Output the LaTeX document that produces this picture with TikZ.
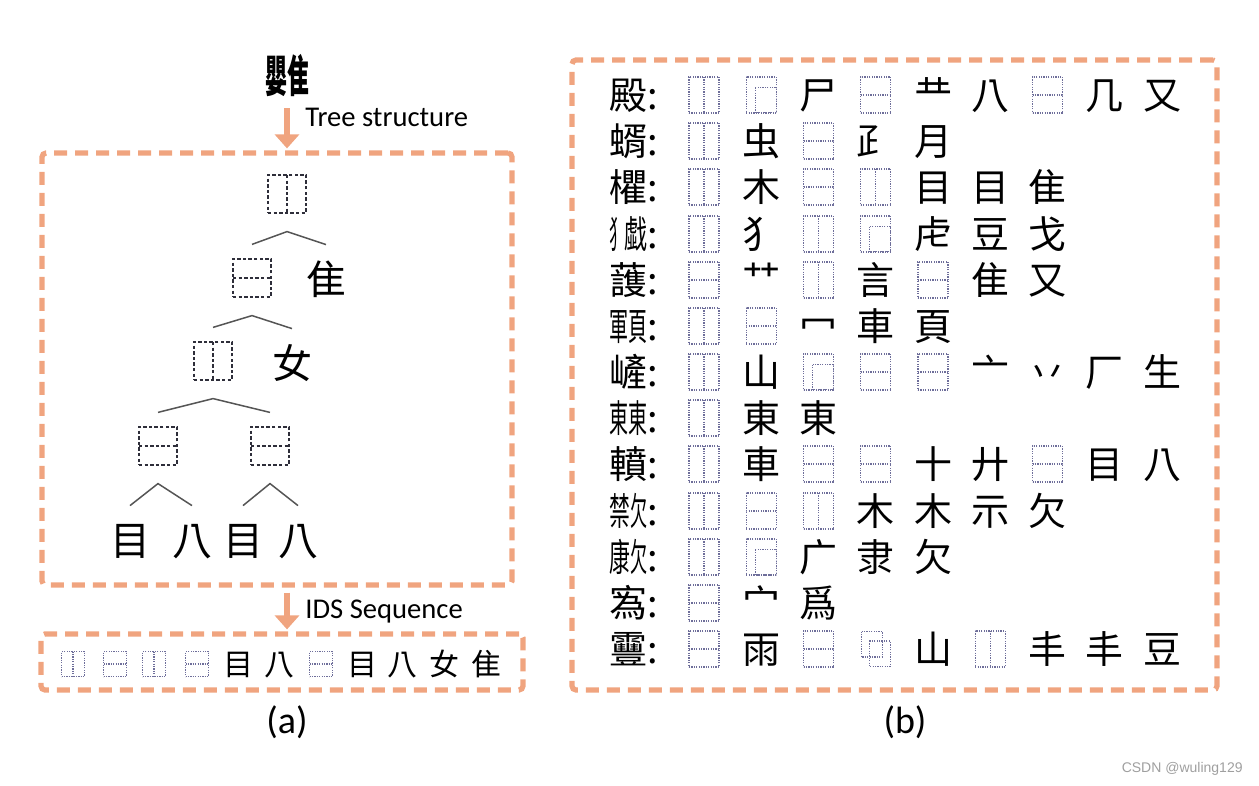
\documentclass[tikz,border=0pt]{standalone}
\usepackage{fontspec}
\usepackage{graphicx}
\setmainfont{Carlito}
\newfontfamily\cjk{Noto Sans CJK TC}
\newfontfamily\marksans{Liberation Sans}
\usetikzlibrary{arrows.meta,calc}
\definecolor{IdsOrange}{HTML}{F0A47F}
\definecolor{IdsDot}{HTML}{6E6E9A}
\definecolor{IdsInk}{HTML}{2E2E3A}
\definecolor{IdsCaret}{HTML}{555555}

% one glyph built from two squeezed components
\newcommand{\pairglyph}[3]{\makebox[1em][c]{\scalebox{#3}[1]{#1}\scalebox{\fpeval{1-#3}}[1]{#2}}}

\begin{document}
\begin{tikzpicture}[x=0.5pt,y=-0.5pt,
    panel/.style={draw=IdsOrange, line width=2.6pt, dash pattern=on 6.5pt off 4pt, rounded corners=2pt, inner sep=0pt},
    flow/.style={draw=IdsOrange, line width=2.6pt, -{Triangle[width=12pt,length=7pt]}},
    caret/.style={IdsCaret, line width=0.75pt},
    tag/.style={font=\fontsize{14.3}{14.3}\selectfont, inner sep=0pt},
    idcline/.style={IdsInk, line width=0.6pt, dash pattern=on 1.7pt off 1.1pt},
    idcbox/.style={draw, idcline, inner sep=0pt},
    idlr/.style={idcbox, path picture={\draw[idcline] (path picture bounding box.north) -- (path picture bounding box.south);}},
    idtb/.style={idcbox, path picture={\draw[idcline] (path picture bounding box.west) -- (path picture bounding box.east);}},
    idul/.style={idcbox, path picture={\draw[idcline] ($(path picture bounding box.north west)!0.3!(path picture bounding box.south east)$) rectangle (path picture bounding box.south east);}},
    idov/.style={idcbox, draw=none, path picture={
        \draw[idcline] ($(path picture bounding box.north west)+(0.3pt,-0.3pt)$) rectangle ($(path picture bounding box.north west)!0.72!(path picture bounding box.south east)$);
        \draw[idcline] ($(path picture bounding box.north west)!0.28!(path picture bounding box.south east)$) rectangle ($(path picture bounding box.south east)+(-0.3pt,0.3pt)$);}},
    glyph/.style={font=\cjk\fontsize{19}{19}\selectfont, inner sep=0pt, text height=16.7pt, text depth=2.3pt},
    rowlab/.style={glyph, anchor=west}]

    \useasboundingbox (0,0) rectangle (1259,786);

    % ========== panels ==========
    \node[panel, minimum width=235pt, minimum height=216pt] (treebox) at (277,369) {};
    \node[panel, minimum width=241pt, minimum height=28pt] (seqbox) at (282,662) {};
    \node[panel, minimum width=322.5pt, minimum height=315pt] (listbox) at (894.5,375) {};

    % ========== (a): character and its tree ==========
    \node[font=\cjk\bfseries\fontsize{22}{22}\selectfont, inner sep=0pt, text height=19.4pt, text depth=2.6pt]
        (word) at (287,76) {\pairglyph{嬰}{隹}{0.5}};

    \draw[flow, shorten <=5pt, shorten >=1pt] (word.south) -- (word.south |- treebox.north);
    \node[tag, anchor=west] (treetag) at (305,117) {Tree structure};

    \begin{scope}[idcbox/.append style={minimum width=19pt, minimum height=19pt},
                  glyph/.append style={font=\cjk\fontsize{20}{20}\selectfont, text height=17.6pt, text depth=2.4pt}]
        \node[idlr] (root) at (287,194) {};
        \node[idtb] (midl) at (252,278) {};
        \node[glyph] (midr) at (326,279) {隹};
        \node[idlr] (lowl) at (213,361) {};
        \node[glyph] (lowr) at (292,363) {女};
        \node[idtb] (pairl) at (158,446) {};
        \node[idtb] (pairr) at (270,446) {};
        \node[glyph] (leafa) at (130,540) {目};
        \node[glyph] (leafb) at (192,540) {八};
        \node[glyph] (leafc) at (243,540) {目};
        \node[glyph] (leafd) at (298,540) {八};

        % branches
        \draw[caret] ([yshift=7pt]midl.north) -- ([yshift=-9pt]root.south) -- ([yshift=7pt]midr.north);
        \draw[caret] ([yshift=7pt]lowl.north) -- ([yshift=-9pt]midl.south) -- ([yshift=7pt]lowr.north);
        \draw[caret] ([yshift=7pt]pairl.north) -- ([yshift=-9pt]lowl.south) -- ([yshift=7pt]pairr.north);
        \draw[caret] ([yshift=7pt]leafa.north) -- ([yshift=-9pt]pairl.south) -- ([yshift=7pt]leafb.north);
        \draw[caret] ([yshift=7pt]leafc.north) -- ([yshift=-9pt]pairr.south) -- ([yshift=7pt]leafd.north);
    \end{scope}

    \draw[flow, shorten <=2.5pt, shorten >=1pt] (word.south |- treebox.south) -- (word.south |- seqbox.north);
    \node[tag, anchor=west] (seqtag) at (305,612) {IDS Sequence};

    % IDS sequence
    \begin{scope}[idcline/.style={IdsDot, line width=0.55pt, dash pattern=on 0.6pt off 0.6pt},
                  idcbox/.append style={minimum width=11.5pt, minimum height=12.5pt},
                  glyph/.append style={font=\cjk\fontsize{15}{15}\selectfont, text height=13.2pt, text depth=1.8pt}]
        \foreach \st/\tx/\px [count=\k] in {idlr//73, idtb//115, idlr//154, idtb//197, glyph/目/238, glyph/八/279,
                                            idtb//321, glyph/目/362, glyph/八/402, glyph/女/444, glyph/隹/486}
            \node[\st] (seq\k) at (\px,664) {\tx};
    \end{scope}

    \node[font=\fontsize{19}{19}\selectfont] (capa) at (287,722) {(a)};

    % ========== (b): decomposition list ==========
    \begin{scope}[idcline/.style={IdsDot, line width=0.6pt, dash pattern=on 0.6pt off 0.6pt},
                  idcbox/.append style={minimum width=15pt, minimum height=18pt}]
        % row 1
        \node[rowlab] (r1) at (609,95) {殿:};
        \foreach \st/\tx [count=\c] in {idlr/,idul/,glyph/尸,idtb/,glyph/龷,glyph/八,idtb/,glyph/几,glyph/又}
            \node[\st] (r1c\c) at ({704+57.25*(\c-1)},95) {\tx};
        % row 2
        \node[rowlab] (r2) at (609,141) {蝑:};
        \foreach \st/\tx [count=\c] in {idlr/,glyph/虫,idtb/,glyph/⺪,glyph/月}
            \node[\st] (r2c\c) at ({704+57.25*(\c-1)},141) {\tx};
        % row 3
        \node[rowlab] (r3) at (609,187) {欋:};
        \foreach \st/\tx [count=\c] in {idlr/,glyph/木,idtb/,idlr/,glyph/目,glyph/目,glyph/隹}
            \node[\st] (r3c\c) at ({704+57.25*(\c-1)},187) {\tx};
        % row 4
        \node[rowlab] (r4) at (609,234) {\pairglyph{犭}{戱}{0.4}:};
        \foreach \st/\tx [count=\c] in {idlr/,glyph/犭,idlr/,idul/,glyph/虍,glyph/豆,glyph/戈}
            \node[\st] (r4c\c) at ({704+57.25*(\c-1)},234) {\tx};
        % row 5
        \node[rowlab] (r5) at (609,280) {䕶:};
        \foreach \st/\tx [count=\c] in {idtb/,glyph/艹,idlr/,glyph/言,idtb/,glyph/隹,glyph/又}
            \node[\st] (r5c\c) at ({704+57.25*(\c-1)},280) {\tx};
        % row 6
        \node[rowlab] (r6) at (609,326) {\pairglyph{軍}{頁}{0.5}:};
        \foreach \st/\tx [count=\c] in {idlr/,idtb/,glyph/冖,glyph/車,glyph/頁}
            \node[\st] (r6c\c) at ({704+57.25*(\c-1)},326) {\tx};
        % row 7
        \node[rowlab] (r7) at (609,372) {嵼:};
        \foreach \st/\tx [count=\c] in {idlr/,glyph/山,idul/,idtb/,idtb/,glyph/亠,glyph/丷,glyph/厂,glyph/生}
            \node[\st] (r7c\c) at ({704+57.25*(\c-1)},372) {\tx};
        % row 8
        \node[rowlab] (r8) at (609,418) {\pairglyph{東}{東}{0.5}:};
        \foreach \st/\tx [count=\c] in {idlr/,glyph/東,glyph/東}
            \node[\st] (r8c\c) at ({704+57.25*(\c-1)},418) {\tx};
        % row 9
        \node[rowlab] (r9) at (609,464) {轒:};
        \foreach \st/\tx [count=\c] in {idlr/,glyph/車,idtb/,idtb/,glyph/十,glyph/廾,idtb/,glyph/目,glyph/八}
            \node[\st] (r9c\c) at ({704+57.25*(\c-1)},464) {\tx};
        % row 10
        \node[rowlab] (r10) at (609,511) {\pairglyph{禁}{欠}{0.55}:};
        \foreach \st/\tx [count=\c] in {idlr/,idtb/,idlr/,glyph/木,glyph/木,glyph/示,glyph/欠}
            \node[\st] (r10c\c) at ({704+57.25*(\c-1)},511) {\tx};
        % row 11
        \node[rowlab] (r11) at (609,557) {\pairglyph{康}{欠}{0.55}:};
        \foreach \st/\tx [count=\c] in {idlr/,idul/,glyph/广,glyph/隶,glyph/欠}
            \node[\st] (r11c\c) at ({704+57.25*(\c-1)},557) {\tx};
        % row 12
        \node[rowlab] (r12) at (609,603) {寪:};
        \foreach \st/\tx [count=\c] in {idtb/,glyph/宀,glyph/爲}
            \node[\st] (r12c\c) at ({704+57.25*(\c-1)},603) {\tx};
        % row 13
        \node[rowlab] (r13) at (609,649) {靊:};
        \foreach \st/\tx [count=\c] in {idtb/,glyph/雨,idtb/,idov/,glyph/山,idlr/,glyph/丰,glyph/丰,glyph/豆}
            \node[\st] (r13c\c) at ({704+57.25*(\c-1)},649) {\tx};
    \end{scope}

    \node[font=\fontsize{19}{19}\selectfont] (capb) at (905,722) {(b)};

    \node[font=\marksans\fontsize{7}{7}\selectfont, text=gray!75, anchor=east, inner sep=0pt] (mark) at (1243,769) {CSDN @wuling129};

\end{tikzpicture}
\end{document}
